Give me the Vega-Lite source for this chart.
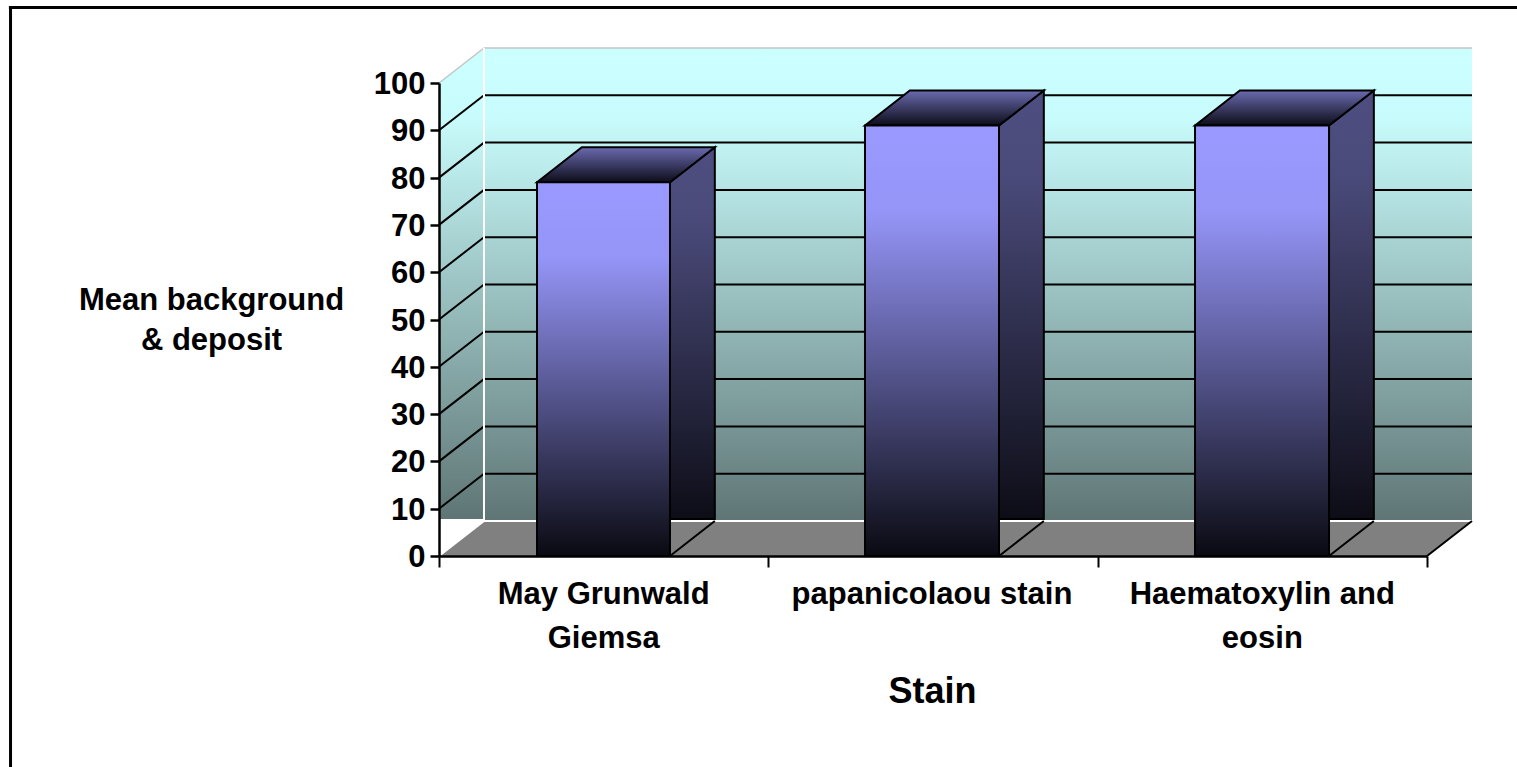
{
"$schema":"https://vega.github.io/schema/vega-lite/v6.json",
"width":1517,"height":767,"autosize":"none","padding":0,"background":"white",
"config":{"view":{"stroke":null},"font":"Liberation Sans"},
"datasets":{
"backWall":[{"x":0.1366,"x2":3.1366,"y":107.4,"y2":7.2}],
"leftWall":[{"x":0,"y":100,"y2":7.8},{"x":0.1366,"y":107.4,"y2":7.8}],
"floor":[{"x":0,"y":0,"y2":0},{"x":0.1366,"y":7.4,"y2":0},{"x":3,"y":7.4,"y2":0},{"x":3.1366,"y":7.4,"y2":7.4}],
"grid":[
{"x":0,"x2":0.1366,"y":10,"y2":17.4},{"x":0,"x2":0.1366,"y":20,"y2":27.4},{"x":0,"x2":0.1366,"y":30,"y2":37.4},{"x":0,"x2":0.1366,"y":40,"y2":47.4},{"x":0,"x2":0.1366,"y":50,"y2":57.4},{"x":0,"x2":0.1366,"y":60,"y2":67.4},{"x":0,"x2":0.1366,"y":70,"y2":77.4},{"x":0,"x2":0.1366,"y":80,"y2":87.4},{"x":0,"x2":0.1366,"y":90,"y2":97.4},
{"x":0.1366,"x2":3.1366,"y":17.4,"y2":17.4},{"x":0.1366,"x2":3.1366,"y":27.4,"y2":27.4},{"x":0.1366,"x2":3.1366,"y":37.4,"y2":37.4},{"x":0.1366,"x2":3.1366,"y":47.4,"y2":47.4},{"x":0.1366,"x2":3.1366,"y":57.4,"y2":57.4},{"x":0.1366,"x2":3.1366,"y":67.4,"y2":67.4},{"x":0.1366,"x2":3.1366,"y":77.4,"y2":77.4},{"x":0.1366,"x2":3.1366,"y":87.4,"y2":87.4},{"x":0.1366,"x2":3.1366,"y":97.4,"y2":97.4}],
"whiteEdges":[{"x":0.1366,"x2":0.1366,"y":7.4,"y2":107.4},{"x":0.1366,"x2":3.1366,"y":7.4,"y2":7.4},{"x":0,"x2":0.1366,"y":0,"y2":7.4}],
"greyEdges":[{"x":0,"x2":0.1366,"y":100,"y2":107.4},{"x":0.1366,"x2":3.1366,"y":107.4,"y2":107.4}],
"frame":[{"x":-1.301,"x2":-1.301,"y":116.2,"y2":-45},{"x":-1.306,"x2":3.28,"y":115.96,"y2":115.96}],
"floorEdges":[{"x":0.7014,"x2":0.8375,"y":0,"y2":7.4},{"x":1.7004,"x2":1.8365,"y":0,"y2":7.4},{"x":2.7025,"x2":2.8386,"y":0,"y2":7.4},{"x":3,"x2":3.1366,"y":0,"y2":7.4}],
"sides":[
{"bar":"May Grunwald Giemsa","x":0.7014,"y":79,"y2":7.8},{"bar":"May Grunwald Giemsa","x":0.8375,"y":86.4,"y2":7.8},
{"bar":"papanicolaou stain","x":1.7004,"y":91,"y2":7.8},{"bar":"papanicolaou stain","x":1.8365,"y":98.4,"y2":7.8},
{"bar":"Haematoxylin and eosin","x":2.7025,"y":91,"y2":7.8},{"bar":"Haematoxylin and eosin","x":2.8386,"y":98.4,"y2":7.8}],
"tops":[
{"bar":"May Grunwald Giemsa","x":0.2976,"y":79,"y2":79},{"bar":"May Grunwald Giemsa","x":0.4337,"y":86.4,"y2":79},{"bar":"May Grunwald Giemsa","x":0.7014,"y":86.4,"y2":79},{"bar":"May Grunwald Giemsa","x":0.8375,"y":86.4,"y2":86.4},
{"bar":"papanicolaou stain","x":1.2935,"y":91,"y2":91},{"bar":"papanicolaou stain","x":1.4296,"y":98.4,"y2":91},{"bar":"papanicolaou stain","x":1.7004,"y":98.4,"y2":91},{"bar":"papanicolaou stain","x":1.8365,"y":98.4,"y2":98.4},
{"bar":"Haematoxylin and eosin","x":2.2956,"y":91,"y2":91},{"bar":"Haematoxylin and eosin","x":2.4317,"y":98.4,"y2":91},{"bar":"Haematoxylin and eosin","x":2.7025,"y":98.4,"y2":91},{"bar":"Haematoxylin and eosin","x":2.8386,"y":98.4,"y2":98.4}],
"fronts":[
{"bar":"May Grunwald Giemsa","x":0.2976,"x2":0.7014,"y":79,"y2":0},
{"bar":"papanicolaou stain","x":1.2935,"x2":1.7004,"y":91,"y2":0},
{"bar":"Haematoxylin and eosin","x":2.2956,"x2":2.7025,"y":91,"y2":0}],
"labels":[{"x":0.5,"y":0,"label":"May Grunwald\nGiemsa"},{"x":1.497,"y":0,"label":"papanicolaou stain"},{"x":2.5,"y":0,"label":"Haematoxylin and\neosin"}]
},
"encoding":{
"x":{"field":"x","type":"quantitative","scale":{"domain":[0,3],"range":[439,1427],"nice":false,"zero":false},
 "axis":{"values":[0,1,2,3],"labels":false,"grid":false,"offset":-211,"zindex":1,"domainColor":"black","domainWidth":2.5,"tickColor":"black","tickWidth":2,"tickSize":11,"title":"Stain","titleFont":"Liberation Sans","titleFontWeight":"bold","titleFontSize":36,"titleColor":"black","titleAnchor":"middle","titleAlign":"center","titleBaseline":"middle","titleX":932,"titleY":135}},
"y":{"field":"y","type":"quantitative","stack":null,"scale":{"domain":[0,100],"range":[556,83],"nice":false,"zero":false},
 "axis":{"values":[0,10,20,30,40,50,60,70,80,90,100],"grid":false,"offset":-439,"zindex":1,"domainColor":"black","domainWidth":2.5,"tickColor":"black","tickWidth":2.5,"tickSize":9,"labelFont":"Liberation Sans","labelFontWeight":"bold","labelFontSize":31,"labelColor":"black","labelPadding":5,"labelOffset":1.5,"title":["Mean background","& deposit"],"titleFont":"Liberation Sans","titleFontWeight":"bold","titleFontSize":31,"titleColor":"black","titleAngle":0,"titleAlign":"center","titleBaseline":"middle","titleLineHeight":40,"titleX":-228,"titleY":300}}
},
"layer":[
{"data":{"name":"frame"},"mark":{"type":"rule","color":"black","strokeWidth":3},"encoding":{"x2":{"field":"x2"},"y2":{"field":"y2"}}},
{"data":{"name":"backWall"},"mark":{"type":"rect","fill":{"gradient":"linear","x1":0,"y1":0,"x2":0,"y2":1,"stops":[{"offset":0,"color":"#ccffff"},{"offset":0.15,"color":"#c8fbfb"},{"offset":1,"color":"#5f7575"}]}},"encoding":{"x2":{"field":"x2"},"y2":{"field":"y2"}}},
{"data":{"name":"leftWall"},"mark":{"type":"area","orient":"vertical","fill":{"gradient":"linear","x1":0,"y1":0,"x2":0,"y2":1,"stops":[{"offset":0,"color":"#ccffff"},{"offset":0.15,"color":"#c8fbfb"},{"offset":1,"color":"#5f7575"}]}},"encoding":{"y2":{"field":"y2"}}},
{"data":{"name":"floor"},"mark":{"type":"area","orient":"vertical","fill":"#808080"},"encoding":{"y2":{"field":"y2"}}},
{"data":{"name":"grid"},"mark":{"type":"rule","color":"black","strokeWidth":2},"encoding":{"x2":{"field":"x2"},"y2":{"field":"y2"}}},
{"data":{"name":"greyEdges"},"mark":{"type":"rule","color":"#c4c4c4","strokeWidth":1.5},"encoding":{"x2":{"field":"x2"},"y2":{"field":"y2"}}},
{"data":{"name":"whiteEdges"},"mark":{"type":"rule","color":"white","strokeWidth":2},"encoding":{"x2":{"field":"x2"},"y2":{"field":"y2"}}},
{"data":{"name":"sides"},"mark":{"type":"area","orient":"vertical","stroke":"black","strokeWidth":2,"fill":{"gradient":"linear","x1":0,"y1":0,"x2":0,"y2":1,"stops":[{"offset":0,"color":"#4d4d80"},{"offset":0.2,"color":"#4a4a7a"},{"offset":1,"color":"#0d0d17"}]}},"encoding":{"y2":{"field":"y2"},"detail":{"field":"bar"}}},
{"data":{"name":"floorEdges"},"mark":{"type":"rule","color":"black","strokeWidth":2},"encoding":{"x2":{"field":"x2"},"y2":{"field":"y2"}}},
{"data":{"name":"tops"},"mark":{"type":"area","orient":"vertical","stroke":"black","strokeWidth":2,"fill":{"gradient":"linear","x1":0,"y1":0,"x2":0,"y2":1,"stops":[{"offset":0,"color":"#6a6ab0"},{"offset":1,"color":"#0c0c18"}]}},"encoding":{"y2":{"field":"y2"},"detail":{"field":"bar"}}},
{"data":{"name":"fronts"},"mark":{"type":"rect","stroke":"black","strokeWidth":2,"fill":{"gradient":"linear","x1":0,"y1":0,"x2":0,"y2":1,"stops":[{"offset":0,"color":"#9999ff"},{"offset":0.2,"color":"#9595f8"},{"offset":1,"color":"#0a0a12"}]}},"encoding":{"x2":{"field":"x2"},"y2":{"field":"y2"}}},
{"data":{"name":"labels"},"mark":{"type":"text","font":"Liberation Sans","fontWeight":"bold","fontSize":31,"color":"black","align":"center","baseline":"middle","lineBreak":"\n","lineHeight":44,"dy":39},"encoding":{"text":{"field":"label"}}}
]
}
